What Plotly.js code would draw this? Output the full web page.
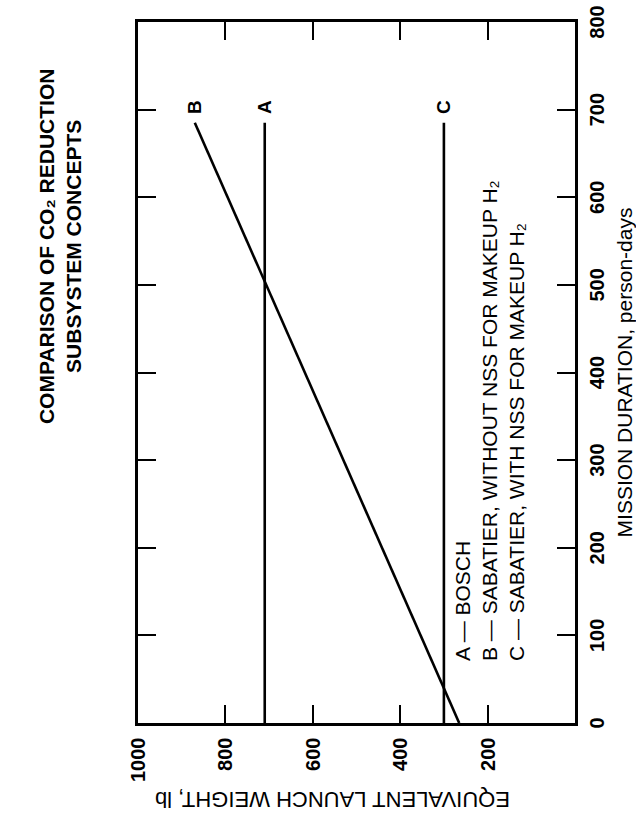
<!DOCTYPE html>
<html>
<head>
<meta charset="utf-8">
<script src="https://cdn.plot.ly/plotly-3.0.1.min.js"></script>
<style>
  html, body { margin: 0; padding: 0; background: #fff; width: 636px; height: 824px; overflow: hidden; }
  #plot { position: absolute; left: 0; top: 0; width: 824px; height: 636px;
          transform-origin: 0 0; transform: translate(0px, 824px) rotate(-90deg); }
</style>
</head>
<body>
<div id="plot"></div>
<script>
// Mission duration (person-days) at which each line starts and ends
const duration = [0, 685];
// Equivalent launch weight, lb
const boschA = [710, 710];
const sabatierNoNssB = [265, 870];
const sabatierNssC = [300, 300];
const lineLabels = ['A', 'B', 'C'];
const legendLines = [
  'A \u2014 BOSCH',
  'B \u2014 SABATIER, WITHOUT NSS FOR MAKEUP H\u2082',
  'C \u2014 SABATIER, WITH NSS FOR MAKEUP H\u2082'
];
const durationTicks = [0, 100, 200, 300, 400, 500, 600, 700, 800];
const weightTicks = [200, 400, 600, 800, 1000];

const FONT = 'Arial, "Liberation Sans", Helvetica, sans-serif';
const lineStyle = {color: '#000', width: 2.6};

const series = [boschA, sabatierNoNssB, sabatierNssC];
const traces = series.map((s, i) => ({
  x: duration, y: s, type: 'scatter', mode: 'lines',
  line: lineStyle, hoverinfo: 'skip', showlegend: false, name: lineLabels[i]
}));

const annotations = [];
series.forEach((s, i) => {
  annotations.push({
    x: duration[1] + 18, y: s[1], xref: 'x', yref: 'y',
    text: '<b>' + lineLabels[i] + '</b>', showarrow: false, xanchor: 'center', yanchor: 'middle',
    font: {family: FONT, size: 19, color: '#000'}
  });
});
legendLines.forEach((t, i) => {
  annotations.push({
    x: 0.085, y: 0.258 - i * 0.062, xref: 'paper', yref: 'paper',
    text: t, showarrow: false, xanchor: 'left', yanchor: 'middle', align: 'left',
    font: {family: FONT, size: 21, color: '#000'}
  });
});
annotations.push({
  x: -0.11, y: 0.556, xref: 'paper', yref: 'paper', textangle: -90,
  text: 'EQUIVALENT LAUNCH WEIGHT, lb', showarrow: false,
  xanchor: 'center', yanchor: 'middle',
  font: {family: FONT, size: 22, color: '#000'}
});

const layout = {
  width: 824, height: 636,
  margin: {l: 101, r: 22, t: 138, b: 61},
  paper_bgcolor: '#fff', plot_bgcolor: '#fff',
  showlegend: false,
  title: {
    text: '<b>COMPARISON OF CO\u2082 REDUCTION<br>SUBSYSTEM CONCEPTS</b>',
    x: 0.68, xref: 'paper', xanchor: 'center',
    y: 0.915, yref: 'container', yanchor: 'middle',
    font: {family: FONT, size: 21, color: '#000'}
  },
  xaxis: {
    range: [0, 800], tickvals: durationTicks, ticktext: durationTicks.map(String),
    ticks: 'inside', ticklen: 18, tickwidth: 2, tickcolor: '#000',
    showline: true, linecolor: '#000', linewidth: 2.6, mirror: 'ticks',
    showgrid: false, zeroline: false, fixedrange: true,
    tickfont: {family: FONT, size: 20, color: '#000', weight: 'bold'},
    ticklabelstandoff: 2,
    title: {text: 'MISSION DURATION, person-days', standoff: 16,
            font: {family: FONT, size: 21, color: '#000'}}
  },
  yaxis: {
    range: [0, 1000], tickvals: weightTicks, ticktext: weightTicks.map(String),
    ticks: 'inside', ticklen: 18, tickwidth: 2, tickcolor: '#000',
    showline: true, linecolor: '#000', linewidth: 2.6, mirror: 'ticks',
    showgrid: false, zeroline: false, fixedrange: true,
    tickfont: {family: FONT, size: 20, color: '#000', weight: 'bold'},
    ticklabelstandoff: 8
  },
  annotations: annotations
};

Plotly.newPlot('plot', traces, layout, {staticPlot: true, displayModeBar: false});
</script>
</body>
</html>
